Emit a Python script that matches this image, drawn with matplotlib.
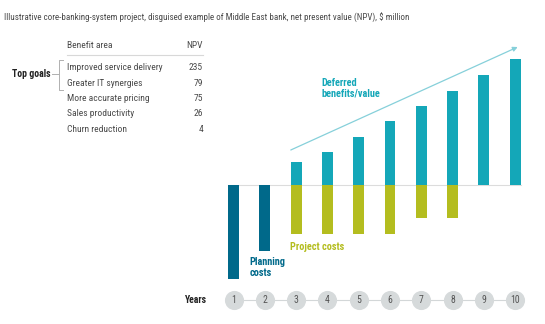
import matplotlib
matplotlib.use("Agg")
import matplotlib.pyplot as plt

W, H = 545, 324

years = [1, 2, 3, 4, 5, 6, 7, 8, 9, 10]
benefits = [0, 0, 23, 33, 48, 64, 79, 94, 110, 126]
planning_costs = [-94, -66, 0, 0, 0, 0, 0, 0, 0, 0]
project_costs = [0, 0, -49, -49, -49, -49, -33, -33, 0, 0]

benefit_areas = ["Improved service delivery", "Greater IT synergies",
                 "More accurate pricing", "Sales productivity", "Churn reduction"]
npv = [235, 79, 75, 26, 4]

TEAL = "#14a7b8"
DARK = "#00698a"
OLIVE = "#b4bd1f"
GREY = "#4a4a4a"
FONT = ["Roboto Condensed", "DejaVu Sans"]

plt.rcParams["font.family"] = FONT

def fx(px):
    return px / W

def fy(py):
    return 1 - py / H

fig = plt.figure(figsize=(W / 100, H / 100), dpi=100)
fig.patch.set_facecolor("white")

fig.text(fx(4), fy(18), "Illustrative core-banking-system project, disguised example of Middle East bank, "
         "net present value (NPV), $ million", fontsize=6.5, color=GREY, va="center", ha="left")

# benefit table
fig.text(fx(67), fy(45), "Benefit area", fontsize=6.8, color=GREY, va="center")
fig.text(fx(203), fy(45), "NPV", fontsize=6.8, color=GREY, va="center", ha="right")
fig.add_artist(plt.Line2D([fx(67), fx(203)], [fy(55), fy(55)], color="#d8d8d8", lw=0.8))
for i, (name, val) in enumerate(zip(benefit_areas, npv)):
    y = 67.5 + i * 15.5
    fig.text(fx(67), fy(y), name, fontsize=6.8, color=GREY, va="center")
    fig.text(fx(203), fy(y), str(val), fontsize=6.8, color=GREY, va="center", ha="right")

fig.text(fx(12), fy(74), "Top goals", fontsize=7, color="#222222", weight="bold", va="center")
bracket = dict(color="#b0b0b0", lw=0.7)
fig.add_artist(plt.Line2D([fx(52), fx(59)], [fy(74), fy(74)], **bracket))
fig.add_artist(plt.Line2D([fx(63), fx(59), fx(59), fx(63)],
                          [fy(60), fy(60), fy(90), fy(90)], **bracket))

# main bar chart: 1 unit = 1 px, baseline at y=185
x_unit = 31.3
left_px = 233.5 - 0.5 * x_unit
ymin, ymax = -100, 140
ax = fig.add_axes([fx(left_px), fy(185 - ymin), 10 * x_unit / W, (ymax - ymin) / H])
ax.set_xlim(0.5, 10.5)
ax.set_ylim(ymin, ymax)
ax.axis("off")

bw = 0.35
ax.bar(years, benefits, width=bw, color=TEAL, zorder=2)
ax.bar(years, planning_costs, width=bw, color=DARK, zorder=2)
ax.bar(years, project_costs, width=bw, color=OLIVE, zorder=2)
ax.plot([1 - bw / 2, 10 + bw / 2], [0, 0], color="#dcdcdc", lw=0.8, zorder=1)

ax.annotate("", xy=(10.08, 138), xytext=(2.83, 35),
            arrowprops=dict(arrowstyle="-|>", color="#86d0da", lw=0.9,
                            mutation_scale=7, shrinkA=0, shrinkB=0))

ax.text(3.82, 107, "Deferred\nbenefits/value", color=TEAL, fontsize=7.4, weight="bold",
        va="top", ha="left", linespacing=1.1)
ax.text(2.82, -62, "Project costs", color=OLIVE, fontsize=7.4, weight="bold",
        va="center", ha="left")
ax.text(1.5, -72, "Planning\ncosts", color=DARK, fontsize=7.4, weight="bold",
        va="top", ha="left", linespacing=1.1)

# year markers
axy = fig.add_axes([fx(left_px), fy(310), 10 * x_unit / W, 20 / H])
axy.set_xlim(0.5, 10.5)
axy.set_ylim(-1, 1)
axy.axis("off")
axy.plot([1, 10], [0, 0], color="#d3d7d8", lw=0.8, zorder=1)
axy.scatter(years, [0] * len(years), s=190, color="#d6dadb", zorder=2, linewidths=0)
for yr in years:
    axy.text(yr, 0, str(yr), fontsize=7, color="#555555", ha="center", va="center", zorder=3)

fig.text(fx(207), fy(300), "Years", fontsize=7, color="#222222", weight="bold",
         ha="right", va="center")

fig.savefig("out.png", dpi=100)
